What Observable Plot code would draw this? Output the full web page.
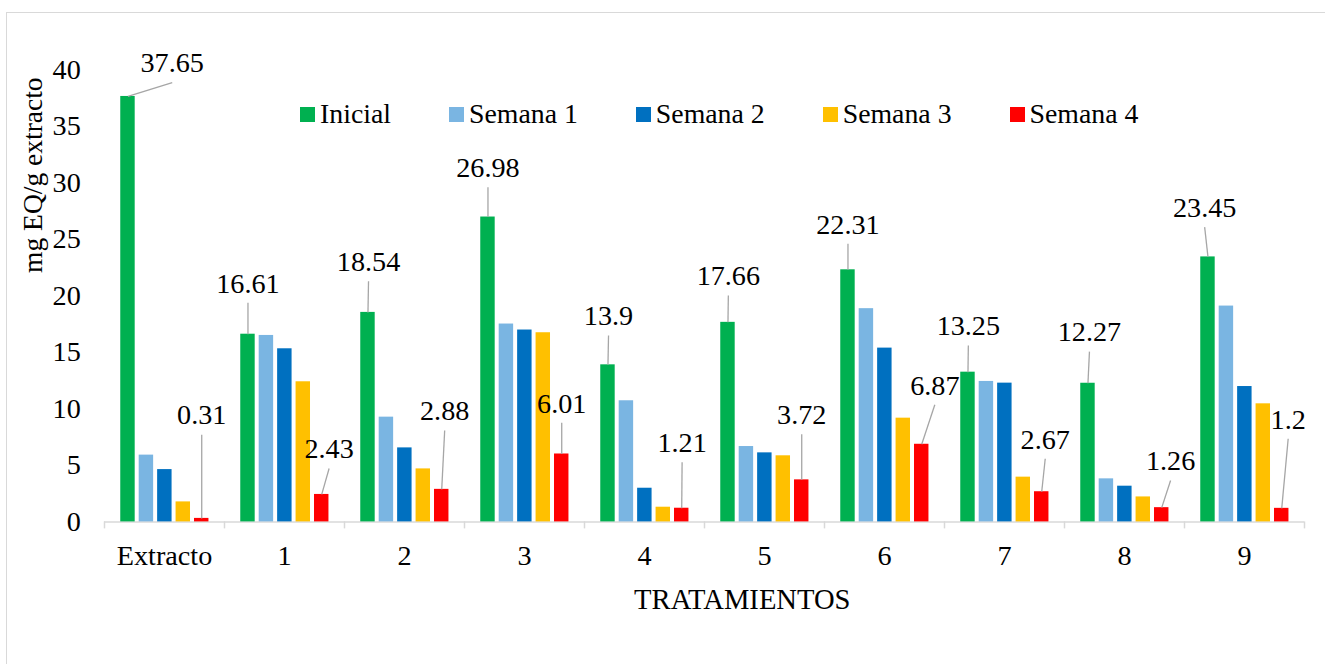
<!DOCTYPE html>
<html>
<head>
<meta charset="utf-8">
<script src="https://cdn.jsdelivr.net/npm/d3@7"></script>
<script src="https://cdn.jsdelivr.net/npm/@observablehq/plot@0.6"></script>
<style>
  body { margin: 0; background: #fff; }
  #chart { position: relative; width: 1325px; height: 664px; overflow: hidden; background: #fff; }
  #frame { position: absolute; left: 6px; top: 11.5px; width: 2000px; height: 2000px;
           border-left: 1.5px solid #d9d9d9; border-top: 1.5px solid #d9d9d9; pointer-events: none; }
  #legend { position: absolute; left: 300px; top: 99px; }
  .leg-swatches { font-family: "Liberation Serif", "Times New Roman", serif !important;
                  font-size: 27.8px !important; color: #000 !important; margin: 0 !important; min-height: 0 !important; }
  .leg-swatch { margin-right: 58px !important; line-height: 30px; }
  .leg-swatch > svg { margin-right: 5px !important; }
</style>
</head>
<body>
<div id="chart"></div>
<script>
// Treatments (x groups) and sampling times (bars inside each group)
const groups = ["Extracto", "1", "2", "3", "4", "5", "6", "7", "8", "9"];
const series = ["Inicial", "Semana 1", "Semana 2", "Semana 3", "Semana 4"];
const colors = ["#00b050", "#7ab5e2", "#0070c0", "#ffc000", "#ff0000"];

// mg EQ/g extracto per treatment
const inicial = [37.65, 16.61, 18.54, 26.98, 13.9, 17.66, 22.31, 13.25, 12.27, 23.45];
const semana1 = [5.91, 16.5, 9.27, 17.51, 10.72, 6.67, 18.87, 12.43, 3.81, 19.1];
const semana2 = [4.63, 15.32, 6.55, 16.98, 2.98, 6.11, 15.38, 12.28, 3.16, 11.98];
const semana3 = [1.77, 12.4, 4.69, 16.74, 1.3, 5.85, 9.18, 3.96, 2.21, 10.45];
const semana4 = [0.31, 2.43, 2.88, 6.01, 1.21, 3.72, 6.87, 2.67, 1.26, 1.2];

// Placement of the value callouts: horizontal shift (in bar steps) and
// height above the bar top (in y units) for Inicial and Semana 4 labels
const inicialLabelShift = [2.40, 0, 0.03, 0, 0.03, 0.02, 0, 0.02, 0.08, -0.18];
const inicialLabelLift  = [2.92, 4.49, 4.46, 4.34, 4.29, 4.07, 4.01, 4.06, 4.5, 4.33];
const semana4LabelShift = [0, 0.40, 0.16, 0, 0.02, 0, 0.71, 0.19, 0.48, 0.35];
const semana4LabelLift  = [9.11, 4.0, 6.91, 4.47, 5.77, 5.74, 5.2, 4.62, 4.11, 7.86];

const values = [inicial, semana1, semana2, semana3, semana4];

const rows = groups.flatMap((g, gi) =>
  series.map((s, si) => ({group: g, series: s, idx: si, value: values[si][gi]}))
);

const labelRows = groups.flatMap((g, gi) => [
  {group: g, idx: 0, value: inicial[gi], shift: inicialLabelShift[gi], lift: inicialLabelLift[gi]},
  {group: g, idx: 4, value: semana4[gi], shift: semana4LabelShift[gi], lift: semana4LabelLift[gi]}
]);

// within-group x extent (bar i spans [i, i+1])
const xLo = -0.773, xHi = 5.735;
const edges = [
  ...groups.map(g => ({group: g, at: xLo})),
  {group: groups[groups.length - 1], at: xHi}
];
const leaderGap = 1.7;
const axisGray = "#d9d9d9";

const plot = Plot.plot({
  width: 1325,
  height: 664,
  marginLeft: 102,
  marginRight: 19,
  marginTop: 69.4,
  marginBottom: 142.6,
  style: {fontFamily: '"Liberation Serif", "Times New Roman", serif', fontSize: "28.2px", color: "#000", background: "transparent"},
  fx: {domain: groups, padding: 0, axis: "bottom", tickSize: 0, tickPadding: 22.6, label: null},
  x: {domain: [xLo, xHi], axis: null},
  y: {domain: [0, 40], ticks: d3.range(0, 41, 5), tickSize: 0, tickPadding: 23.7, label: null},
  color: {domain: series, range: colors},
  marks: [
    Plot.ruleY([0], {stroke: axisGray, strokeWidth: 1.5}),
    Plot.ruleX(edges, {fx: "group", x: "at", y1: 0, y2: 0, insetBottom: -7, stroke: axisGray, strokeWidth: 1.5}),
    Plot.rect(rows, {
      fx: "group", x1: "idx", x2: d => d.idx + 1, y1: 0, y2: "value",
      fill: "series", insetLeft: 2, insetRight: 2
    }),
    Plot.link(labelRows, {
      fx: "group",
      x1: d => d.idx + 0.5, y1: "value",
      x2: d => d.idx + 0.5 + d.shift, y2: d => d.value + d.lift - leaderGap,
      stroke: "#a6a6a6", strokeWidth: 1.3
    }),
    Plot.text(labelRows, {
      fx: "group",
      x: d => d.idx + 0.5 + d.shift, y: d => d.value + d.lift,
      text: d => String(d.value), fill: "#000"
    }),
    Plot.text(["mg EQ/g extracto"], {facet: "super", frameAnchor: "left", rotate: -90, dx: -71.6, dy: -23, fontSize: 27.5, fill: "#000"}),
    Plot.text(["TRATAMIENTOS"], {facet: "super", frameAnchor: "bottom", dx: 37.8, dy: 87.5, fontSize: 28.6, fill: "#000"})
  ]
});

const chart = document.getElementById("chart");
chart.appendChild(plot);

const legend = plot.legend("color", {legend: "swatches", swatchSize: 15, className: "leg"});
const legendBox = document.createElement("div");
legendBox.id = "legend";
legendBox.appendChild(legend);
chart.appendChild(legendBox);

const frame = document.createElement("div");
frame.id = "frame";
chart.appendChild(frame);
</script>
</body>
</html>
